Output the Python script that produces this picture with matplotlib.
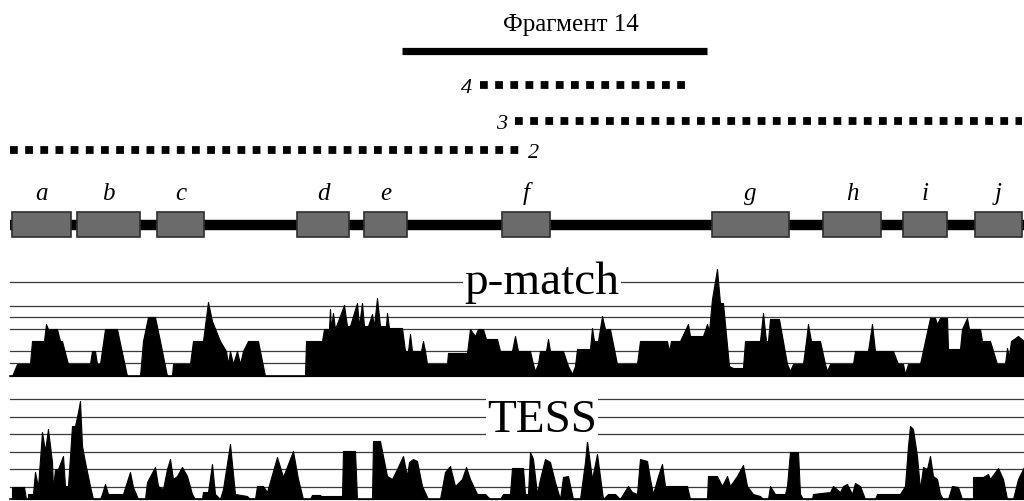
import matplotlib
matplotlib.use("Agg")
import matplotlib.pyplot as plt
import numpy as np

plt.rcParams['font.family'] = ['Liberation Serif', 'DejaVu Serif']

# fragment 14 and the three dotted clones (start, end along the sequence)
frag_name = "Фрагмент 14"
frag_span = (402, 707)
clone_names = ["4", "3", "2"]
clone_spans = [(480, 690), (515, 1022), (10, 520)]

# exons
exon_names = ["a", "b", "c", "d", "e", "f", "g", "h", "i", "j"]
exon_start = [12, 77, 157, 297, 364, 502, 712, 823, 903, 975]
exon_end = [71, 140, 204, 349, 407, 550, 789, 881, 947, 1022]

# p-match profile: position, score
pm_pos = [10, 12, 17, 30, 32, 44, 46, 48, 57, 60, 62, 68, 90, 92, 95, 97, 100, 105, 117, 127,
          140, 143, 148, 155, 160, 167, 172, 173, 190, 193, 203, 208, 212, 220, 226, 228, 230, 233,
          237, 240, 243, 248, 258, 265, 305, 306, 322, 324, 329, 330, 331, 333, 335, 344, 347, 350,
          353, 357, 359, 362, 364, 368, 372, 374, 377, 380, 386, 387, 389, 402, 405, 408, 410, 412,
          421, 423, 425, 427, 447, 448, 467, 470, 475, 478, 483, 486, 497, 500, 512, 515, 518, 530,
          533, 535, 538, 540, 546, 548, 550, 563, 568, 572, 575, 577, 590, 592, 594, 598, 602, 605,
          610, 617, 637, 640, 667, 669, 671, 680, 688, 690, 703, 707, 709, 712, 717, 720, 723, 729,
          733, 743, 745, 760, 763, 766, 768, 770, 779, 787, 790, 793, 803, 806, 808, 811, 820, 825,
          827, 830, 853, 855, 868, 872, 875, 893, 898, 903, 905, 908, 920, 925, 930, 935, 937, 940,
          947, 948, 960, 962, 967, 969, 980, 982, 990, 997, 1005, 1007, 1009, 1011, 1018, 1024]
pm_val = [0, 0, 12, 12, 35, 35, 52, 47, 47, 35, 35, 12, 12, 25, 25, 12, 12, 47, 47, 0,
          0, 35, 59, 59, 35, 0, 0, 12, 12, 35, 35, 74, 55, 35, 25, 12, 25, 12,
          25, 12, 25, 35, 35, 0, 0, 35, 35, 47, 47, 67, 47, 63, 47, 71, 50, 50,
          60, 73, 50, 73, 50, 50, 62, 50, 78, 50, 50, 63, 48, 48, 25, 25, 42, 25,
          25, 35, 25, 12, 12, 23, 23, 47, 40, 47, 47, 37, 37, 25, 25, 40, 25, 25,
          12, 5, 12, 25, 25, 37, 25, 25, 10, 2, 10, 27, 27, 48, 35, 35, 60, 47,
          47, 12, 12, 35, 35, 25, 35, 35, 52, 40, 40, 52, 45, 77, 107, 73, 73, 10,
          8, 8, 35, 35, 63, 35, 35, 57, 57, 12, 5, 12, 12, 35, 52, 35, 35, 12,
          5, 12, 12, 25, 25, 52, 25, 25, 12, 12, 2, 12, 12, 35, 58, 58, 52, 58,
          58, 27, 27, 47, 58, 47, 47, 35, 35, 12, 12, 28, 20, 35, 40, 35]
pm_levels = [13, 25, 47, 59, 70, 94]

# TESS profile: position, score
ts_pos = [12, 12, 24, 26, 28, 28, 33, 35, 38, 42, 45, 48, 52, 53, 55, 58, 63, 65, 68, 72, 75, 78,
          80, 82, 85, 90, 93, 100, 102, 105, 108, 123, 130, 133, 138, 145, 147, 155, 158, 163, 167,
          170, 173, 177, 182, 187, 192, 195, 202, 203, 208, 212, 215, 220, 223, 230, 235, 247, 250,
          255, 257, 263, 267, 277, 283, 293, 298, 303, 310, 312, 320, 321, 342, 343, 355, 357, 372,
          373, 380, 387, 392, 397, 403, 407, 409, 413, 417, 422, 428, 440, 445, 450, 455, 462, 466,
          470, 477, 485, 490, 500, 503, 510, 512, 523, 525, 528, 530, 533, 537, 540, 545, 550, 555,
          560, 563, 568, 573, 580, 585, 587, 592, 597, 603, 608, 615, 620, 623, 628, 632, 637, 640,
          647, 650, 653, 658, 662, 665, 673, 687, 690, 707, 708, 717, 722, 727, 730, 737, 743, 747,
          753, 760, 763, 768, 770, 775, 785, 787, 790, 798, 800, 803, 812, 813, 830, 833, 840, 843,
          847, 852, 855, 860, 865, 875, 877, 900, 905, 908, 910, 913, 917, 920, 923, 927, 930, 933,
          937, 940, 943, 948, 952, 958, 962, 973, 973, 983, 988, 990, 998, 1003, 1007, 1013, 1018,
          1024]
ts_val = [0, 12, 12, 0, 0, 5, 5, 27, 12, 67, 48, 70, 37, 10, 30, 30, 43, 13, 13, 73, 73, 87,
          98, 53, 37, 13, 0, 0, 5, 15, 5, 5, 27, 12, 0, 0, 17, 32, 13, 10, 30,
          40, 20, 23, 32, 23, 5, 0, 0, 7, 7, 35, 5, 0, 10, 55, 5, 3, 0,
          0, 13, 13, 7, 42, 22, 48, 20, 0, 0, 4, 4, 3, 3, 48, 48, 0, 0,
          58, 58, 23, 20, 30, 43, 23, 37, 40, 38, 13, 0, 0, 27, 33, 13, 20, 32,
          20, 5, 5, 0, 0, 5, 5, 31, 31, 5, 5, 47, 40, 5, 20, 40, 37, 17,
          0, 22, 23, 0, 0, 37, 58, 20, 45, 0, 5, 5, 0, 5, 13, 7, 5, 40,
          38, 20, 5, 23, 35, 13, 13, 13, 0, 0, 23, 23, 13, 23, 13, 23, 34, 13,
          5, 3, 0, 0, 13, 5, 5, 13, 47, 47, 5, 0, 0, 5, 7, 13, 7, 13,
          15, 5, 16, 13, 0, 0, 5, 5, 13, 53, 73, 70, 43, 10, 32, 30, 43, 23,
          20, 5, 0, 0, 13, 12, 0, 0, 22, 22, 25, 20, 31, 20, 0, 0, 20,
          32]
ts_levels = [12, 30, 47, 65, 82, 100]

fig = plt.figure(figsize=(10.24, 5.02), dpi=100)
ax = fig.add_axes([0, 0, 1, 1])
ax.set_xlim(0, 1024)
ax.set_ylim(502, 0)
ax.axis('off')

# header: fragment + clones
ax.text(571, 31, frag_name, ha='center', va='baseline', fontsize=18)
ax.plot(frag_span, [52, 52], color='black', lw=5.2, solid_capstyle='butt')

clone_y = [86, 122, 151]
for name, (x0, x1), y in zip(clone_names, clone_spans, clone_y):
    ax.plot([x0, x1], [y, y], color='black', lw=5.6, dashes=(1.0, 0.95))
    if name == "2":
        ax.text(x1 + 8, y + 7, name, ha='left', va='baseline', fontsize=16, style='italic')
    else:
        ax.text(x0 - 8, y + 7, name, ha='right', va='baseline', fontsize=16, style='italic')

# gene structure
ax.plot([10, 1024], [226, 226], color='black', lw=7.5, solid_capstyle='butt')
for name, s, e in zip(exon_names, exon_start, exon_end):
    ax.add_patch(plt.Rectangle((s, 213), e - s, 25, facecolor='#6b6b6b',
                               edgecolor='#2e2e2e', lw=1.2, zorder=3))
    ax.text((s + e) / 2, 200, name, ha='center', va='baseline', fontsize=18, style='italic')


def profile(pos, val, levels, base, label, label_y):
    for lv in levels:
        ax.plot([10, 1024], [base - lv, base - lv], color='#3a3a3a', lw=0.9, zorder=1)
    ax.plot([10, 1024], [base, base], color='black', lw=1.2, zorder=1)
    pos = np.array(pos)
    val = np.array(val)
    ax.fill_between(pos, base, base - val, color='black', lw=0.8, edgecolor='black', zorder=2)
    ax.text(542, label_y, label, ha='center', va='baseline', fontsize=34, zorder=4,
            bbox=dict(facecolor='white', edgecolor='none', pad=1))


profile(pm_pos, pm_val, pm_levels, 377, "p-match", 294)
profile(ts_pos, ts_val, ts_levels, 500, "TESS", 432)

fig.savefig("out.png", dpi=100)
